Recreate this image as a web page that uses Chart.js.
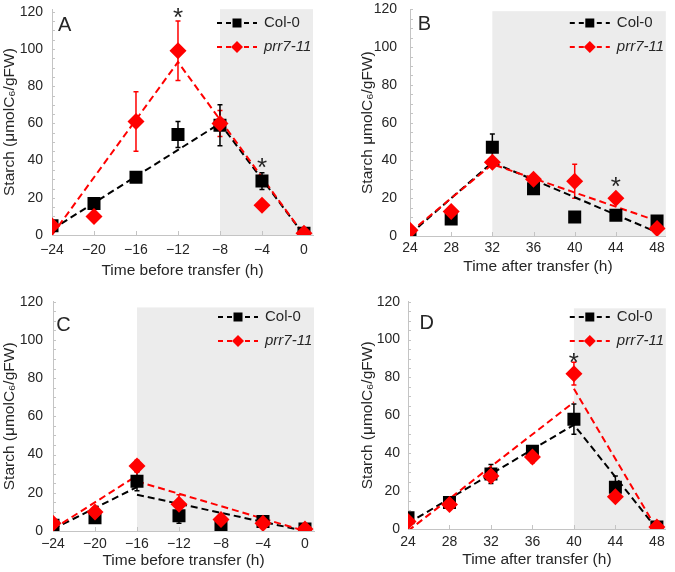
<!DOCTYPE html>
<html>
<head>
<meta charset="utf-8">
<script src="https://cdn.jsdelivr.net/npm/chart.js@4.4.1/dist/chart.umd.min.js"></script>
<style>
  body { margin: 0; background: #fff; }
  #wrap { position: relative; width: 675px; height: 572px; overflow: hidden; }
  .panel { position: absolute; }
</style>
</head>
<body>
<div id="wrap">
  <div class="panel" style="left:0;top:0"><canvas id="chartA" width="337" height="286"></canvas></div>
  <div class="panel" style="left:337px;top:0"><canvas id="chartB" width="338" height="286"></canvas></div>
  <div class="panel" style="left:0;top:286px"><canvas id="chartC" width="337" height="286"></canvas></div>
  <div class="panel" style="left:337px;top:286px"><canvas id="chartD" width="338" height="286"></canvas></div>
</div>
<script>
// time points and axis ticks
const hoursBefore = [-24, -20, -16, -12, -8, -4, 0];
const hoursAfter = [24, 28, 32, 36, 40, 44, 48];
const starchTicks = [0, 20, 40, 60, 80, 100, 120];

// panel A
const colA = [5, 17, 31, 54, 59, 29, 1];
const colAErr = [0, 2, 0, 7, 11, 4.5, 0];
const prrA = [5, 10, 61, 99, 60, 16, 1];
const prrAErr = [0, 0, 16, 16, 7, 0, 0];
const colAFitX = [-24, -8, 0];
const colAFitY = [3, 60, 0];
const prrAFitX = [-24, -12, 0];
const prrAFitY = [0, 93, 0];
const starsAX = [-12, -4];
const starsAY = [119.5, 39];

// panel B
const colB = [0, 9, 47, 25, 10, 11, 8];
const colBErr = [0, 0, 7, 0, 0, 0, 0];
const prrB = [3, 13, 39, 30, 29, 20, 4];
const prrBErr = [0, 0, 0, 0, 9, 0, 0];
const colBFitX = [24, 32, 48];
const colBFitY = [1, 39, 2];
const prrBFitX = [24, 32, 48];
const prrBFitY = [2, 38, 8];
const starsBX = [44];
const starsBY = [28.7];

// panel C
const colC = [3, 7, 26, 8, 3, 5, 1];
const colCErr = [0, 0, 5, 4, 0, 0, 0];
const prrC = [4, 10, 34, 14, 6, 4, 1];
const prrCErr = [0, 0, 3, 5, 0, 0, 0];
const colCFitX = [-24, -16, -16, -16, 0];
const colCFitY = [1, 23, null, 19, 0];
const prrCFitX = [-24, -16, -16, -16, 0];
const prrCFitY = [1, 29, null, 26, 0];

// panel D
const colD = [6, 14, 29, 41, 58, 22, 1];
const colDErr = [0, 2, 5, 2, 8, 6, 0];
const prrD = [4, 13, 28, 38, 82, 17, 1];
const prrDErr = [0, 2, 3, 3, 6, 1, 0];
const colDFitX = [24, 40, 48];
const colDFitY = [3, 55, 0];
const prrDFitX = [24, 40, 40, 40, 48];
const prrDFitY = [-1, 67, null, 74, 0];
const starsDX = [40];
const starsDY = [90.5];

const RED = '#ff0000';
const BLACK = '#000000';
const AXIS = '#c4c4c4';
const TEXT = '#262626';
const FAMILY = '"Liberation Sans", Arial, sans-serif';

const pts = (xs, ys) => xs.map((x, i) => ({ x, y: ys[i] }));
const minus = v => String(v).replace('-', '\u2212');

const decoPlugin = {
    id: 'deco',
    beforeDraw(chart, args, o) {
        const { ctx, chartArea: a, scales: { x, y } } = chart;
        const sx = x.getPixelForValue(o.shadeFrom);
        const sy = Math.max(a.top, y.getPixelForValue(o.shadeTop));
        ctx.save();
        ctx.fillStyle = '#ececec';
        ctx.fillRect(sx, sy, a.right - sx, a.bottom - sy);
        ctx.restore();
    },
    beforeDatasetsDraw(chart) {
        const { ctx, chartArea: a, scales: { x, y } } = chart;
        ctx.save();
        // small inside ticks
        ctx.strokeStyle = AXIS;
        ctx.lineWidth = 1;
        ctx.beginPath();
        x.ticks.forEach(t => {
            const px = Math.round(x.getPixelForValue(t.value)) + 0.5;
            ctx.moveTo(px, a.bottom);
            ctx.lineTo(px, a.bottom - 4);
        });
        for (let v = 5; v <= y.max; v += 5) {
            const py = Math.round(y.getPixelForValue(v)) + 0.5;
            ctx.moveTo(a.left, py);
            ctx.lineTo(a.left + 3, py);
        }
        ctx.stroke();
        // error bars
        chart.data.datasets.forEach((ds, i) => {
            if (!ds.errors) return;
            const meta = chart.getDatasetMeta(i);
            ctx.strokeStyle = ds.borderColor;
            ctx.lineWidth = 1.5;
            meta.data.forEach((pt, j) => {
                const e = ds.errors[j];
                if (!e) return;
                const v = ds.data[j].y;
                const top = y.getPixelForValue(v + e);
                const bot = y.getPixelForValue(v - e);
                ctx.beginPath();
                ctx.moveTo(pt.x, top);
                ctx.lineTo(pt.x, bot);
                ctx.moveTo(pt.x - 2.5, top);
                ctx.lineTo(pt.x + 2.5, top);
                ctx.moveTo(pt.x - 2.5, bot);
                ctx.lineTo(pt.x + 2.5, bot);
                ctx.stroke();
            });
        });
        ctx.restore();
    },
    afterDraw(chart, args, o) {
        const { ctx, chartArea: a, scales: { x, y } } = chart;
        ctx.save();
        ctx.fillStyle = TEXT;
        ctx.textAlign = 'center';
        ctx.textBaseline = 'middle';
        ctx.font = '20px ' + FAMILY;
        ctx.fillText(o.letter, x.getPixelForValue(o.letterAt[0]), y.getPixelForValue(o.letterAt[1]));
        ctx.font = '26px ' + FAMILY;
        (o.stars || []).forEach(s => {
            ctx.fillText('*', x.getPixelForValue(s.x), y.getPixelForValue(s.y) + 6);
        });
        // legend
        const rows = [
            { text: 'Col-0', color: BLACK, italic: false, shape: 'rect' },
            { text: 'prr7-11', color: RED, italic: true, shape: 'diamond' }
        ];
        rows.forEach((r, k) => {
            const ly = o.legendY + k * 24;
            const x0 = a.right - 96, x1 = a.right - 56, xm = (x0 + x1) / 2;
            ctx.strokeStyle = r.color;
            ctx.lineWidth = 2;
            ctx.setLineDash([5, 4]);
            ctx.beginPath();
            ctx.moveTo(x0, ly);
            ctx.lineTo(x1, ly);
            ctx.stroke();
            ctx.setLineDash([]);
            ctx.fillStyle = r.color;
            ctx.beginPath();
            if (r.shape === 'rect') {
                ctx.rect(xm - 4.5, ly - 4.5, 9, 9);
            } else {
                ctx.moveTo(xm - 6, ly);
                ctx.lineTo(xm, ly - 6);
                ctx.lineTo(xm + 6, ly);
                ctx.lineTo(xm, ly + 6);
                ctx.closePath();
            }
            ctx.fill();
            ctx.fillStyle = TEXT;
            ctx.textAlign = 'left';
            ctx.font = (r.italic ? 'italic ' : '') + '15px ' + FAMILY;
            ctx.fillText(r.text, a.right - 49, ly);
        });
        ctx.restore();
    }
};

function buildPanel(p) {
    const tickFont = { family: FAMILY, size: 14 };
    const titleFont = { family: FAMILY, size: 15.5 };
    return new Chart(document.getElementById(p.id), {
        type: 'scatter',
        data: {
            datasets: [
                { label: 'prr7-11', data: pts(p.hours, p.prr), errors: p.prrErr,
                  pointStyle: 'rectRot', pointRadius: 8.5, backgroundColor: RED, borderColor: RED,
                  borderWidth: 0, order: 0 },
                { label: 'Col-0', data: pts(p.hours, p.col), errors: p.colErr,
                  pointStyle: 'rect', pointRadius: 9.2, backgroundColor: BLACK, borderColor: BLACK,
                  borderWidth: 0, order: 1 },
                { label: 'prr7-11 fit', data: p.prrFit, showLine: true, spanGaps: false,
                  pointRadius: 0, borderColor: RED, borderWidth: 2, borderDash: [7, 4], order: 2 },
                { label: 'Col-0 fit', data: p.colFit, showLine: true, spanGaps: false,
                  pointRadius: 0, borderColor: BLACK, borderWidth: 2, borderDash: [7, 4], order: 3 }
            ]
        },
        options: {
            responsive: false,
            animation: false,
            events: [],
            layout: { padding: { top: p.padT, right: p.padR, left: 0, bottom: 0 } },
            plugins: {
                legend: { display: false },
                tooltip: { enabled: false },
                deco: {
                    shadeFrom: p.shadeFrom, shadeTop: p.shadeTop, letter: p.letter,
                    letterAt: p.letterAt, stars: p.stars, legendY: p.legendY
                }
            },
            scales: {
                x: {
                    type: 'linear', min: p.xMin, max: p.xMax,
                    afterBuildTicks: s => { s.ticks = p.hours.map(v => ({ value: v })); },
                    afterFit: s => { s.height = p.xH; },
                    grid: { display: false, drawTicks: true, tickLength: p.xPad },
                    border: { color: AXIS },
                    ticks: { font: tickFont, color: TEXT, padding: 0, maxRotation: 0,
                             autoSkip: false, callback: v => minus(v) },
                    title: { display: true, text: p.xTitle, font: titleFont, color: TEXT,
                             padding: { top: 0, bottom: p.xTitlePad } }
                },
                y: {
                    min: 0, max: p.yMax,
                    afterBuildTicks: s => { s.ticks = starchTicks.map(v => ({ value: v })); },
                    afterFit: s => { s.width = p.yW; },
                    grid: { display: false, drawTicks: true, tickLength: p.yPad },
                    border: { color: AXIS },
                    ticks: { font: tickFont, color: TEXT, padding: 0 },
                    title: { display: true, text: p.yTitle, font: titleFont, color: TEXT,
                             padding: { top: p.yTitlePad, bottom: 0 } }
                }
            }
        },
        plugins: [decoPlugin]
    });
}

const yTitle = 'Starch (\u03bcmolC\u2086/gFW)';

buildPanel({
    id: 'chartA', hours: hoursBefore, col: colA, colErr: colAErr, prr: prrA, prrErr: prrAErr,
    colFit: pts(colAFitX, colAFitY), prrFit: pts(prrAFitX, prrAFitY),
    xMin: -24, xMax: 0.86, yMax: 121.4, shadeFrom: -8, shadeTop: 122,
    xTitle: 'Time before transfer (h)', yTitle: yTitle,
    letter: 'A', letterAt: [-22.8, 112.5], stars: pts(starsAX, starsAY),
    padT: 8.4, padR: 24, yW: 52, xH: 51, yPad: 9, xPad: 7, yTitlePad: 0.7, xTitlePad: 6, legendY: 23
});

buildPanel({
    id: 'chartB', hours: hoursAfter, col: colB, colErr: colBErr, prr: prrB, prrErr: prrBErr,
    colFit: pts(colBFitX, colBFitY), prrFit: pts(prrBFitX, prrBFitY),
    xMin: 24, xMax: 48.85, yMax: 120, shadeFrom: 32, shadeTop: 119,
    xTitle: 'Time after transfer (h)', yTitle: 'Starch \u03bcmolC\u2086/gFW)',
    letter: 'B', letterAt: [25.4, 111.7], stars: pts(starsBX, starsBY),
    padT: 9.3, padR: 3, yW: 73, xH: 50, yPad: 13, xPad: 4, yTitlePad: 21.7, xTitlePad: 10, legendY: 23
});

buildPanel({
    id: 'chartC', hours: hoursBefore, col: colC, colErr: colCErr, prr: prrC, prrErr: prrCErr,
    colFit: pts(colCFitX, colCFitY), prrFit: pts(prrCFitX, prrCFitY),
    xMin: -24, xMax: 0.86, yMax: 120, shadeFrom: -16, shadeTop: 117,
    xTitle: 'Time before transfer (h)', yTitle: yTitle,
    letter: 'C', letterAt: [-23, 107.8], stars: [],
    padT: 15.7, padR: 23, yW: 53, xH: 41, yPad: 10, xPad: 4.5, yTitlePad: 0.7, xTitlePad: 2, legendY: 31
});

buildPanel({
    id: 'chartD', hours: hoursAfter, col: colD, colErr: colDErr, prr: prrD, prrErr: prrDErr,
    colFit: pts(colDFitX, colDFitY), prrFit: pts(prrDFitX, prrDFitY),
    xMin: 24, xMax: 48.86, yMax: 120, shadeFrom: 40, shadeTop: 116.5,
    xTitle: 'Time after transfer (h)', yTitle: yTitle,
    letter: 'D', letterAt: [25.8, 108.7], stars: pts(starsDX, starsDY),
    padT: 15.7, padR: 6, yW: 71, xH: 43, yPad: 8, xPad: 4.5, yTitlePad: 21.7, xTitlePad: 3, legendY: 31
});
</script>
</body>
</html>
